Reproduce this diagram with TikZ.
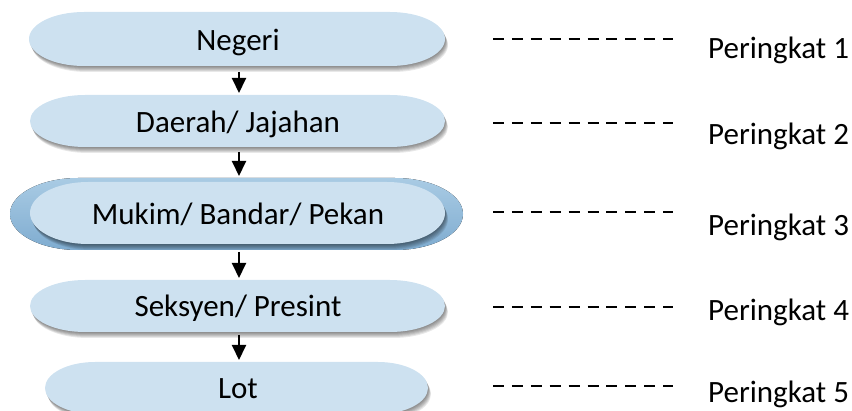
\documentclass[tikz,border=0pt]{standalone}
\usepackage{fontspec}
\setmainfont{Carlito}
\usetikzlibrary{arrows.meta}
\definecolor{pillfill}{HTML}{CDE1F0}
\definecolor{ringtop}{HTML}{A9CBE4}
\definecolor{ringbot}{HTML}{7FACD0}
% #1 cx, #2 cy, #3 width, #4 height, #5 end radius, #6 fill options
\newcommand\pillshape[6]{%
  \fill[#6] ({#1-#3/2+#5},{#2+#4/2}) -- ({#1+#3/2-#5},{#2+#4/2})
    arc[start angle=90,end angle=-90,x radius=#5,y radius={#4/2}]
    -- ({#1-#3/2+#5},{#2-#4/2})
    arc[start angle=270,end angle=90,x radius=#5,y radius={#4/2}] -- cycle;}
\newcommand\pillshadow[5]{%
  \foreach \d in {1,...,6}{\pillshape{#1+0.5*\d}{#2-\d}{#3}{#4}{#5}{black,opacity=0.09}}}
\begin{document}
\begin{tikzpicture}[x=1pt,y=1pt,
  pillnode/.style={inner sep=0pt,outer sep=0pt},
  lbl/.style={font=\fontsize{31}{37}\selectfont,inner sep=0pt,anchor=base},
  rank/.style={font=\fontsize{31}{37}\selectfont,inner sep=0pt,anchor=base west},
  arr/.style={line width=2pt,-{Triangle[length=15pt,width=14pt]}},
  dashline/.style={line width=2.6pt,dash pattern=on 11pt off 7.9pt}]
\useasboundingbox (0,0) rectangle (852,410);
% Negeri
\pillshadow{237}{371}{416}{54}{55}
\pillshape{237}{371}{416}{54}{55}{pillfill}
\node[pillnode,minimum width=416pt,minimum height=54pt] (p1) at (237,371) {};
\node[lbl] (t1) at (238,359) {Negeri};
% Daerah
\pillshadow{237.5}{289}{415}{52}{55}
\pillshape{237.5}{289}{415}{52}{55}{pillfill}
\node[pillnode,minimum width=415pt,minimum height=52pt] (p2) at (237.5,289) {};
\node[lbl] (t2) at (238,277) {Daerah/ Jajahan};
% Mukim
\pillshape{236.5}{196}{453}{72}{68}{top color=ringtop,bottom color=ringbot}
\pillshadow{237.5}{197}{415}{62}{58}
\pillshape{237.5}{197}{415}{62}{58}{pillfill}
\node[pillnode,minimum width=453pt,minimum height=72pt] (p3) at (236.5,196) {};
\node[lbl] (t3) at (238,185) {Mukim/ Bandar/ Pekan};
% Seksyen
\pillshadow{237.5}{104}{415}{52}{55}
\pillshape{237.5}{104}{415}{52}{55}{pillfill}
\node[pillnode,minimum width=415pt,minimum height=52pt] (p4) at (237.5,104) {};
\node[lbl] (t4) at (238,93) {Seksyen/ Presint};
% Lot
\pillshadow{236.5}{22}{383}{52}{50}
\pillshape{236.5}{22}{383}{52}{50}{pillfill}
\node[pillnode,minimum width=383pt,minimum height=52pt] (p5) at (236.5,22) {};
\node[lbl] (t5) at (238,12) {Lot};
% arrows
\draw[arr,shorten <=6pt,shorten >=2pt] ([xshift=2pt]p1.south) -- ([xshift=1.5pt]p2.north);
\draw[arr,shorten <=5pt,shorten >=2pt] ([xshift=1.5pt]p2.south) -- ([xshift=2.5pt]p3.north);
\draw[arr,shorten <=2pt,shorten >=2pt] ([xshift=2.5pt]p3.south) -- ([xshift=1.5pt]p4.north);
\draw[arr,shorten <=3pt,shorten >=2pt] ([xshift=1.5pt]p4.south) -- ([xshift=2.5pt]p5.north);
% dashes and ranks
\foreach \i/\y/\b in {1/371/351,2/287/265,3/198/174,4/103/89,5/24/8}{
  \coordinate (ds\i) at (493,\y);
  \coordinate (de\i) at (673,\y);
  \draw[dashline] (ds\i) -- (de\i);
  \node[rank] (r\i) at (708,\b) {Peringkat \i};
}
\end{tikzpicture}
\end{document}
